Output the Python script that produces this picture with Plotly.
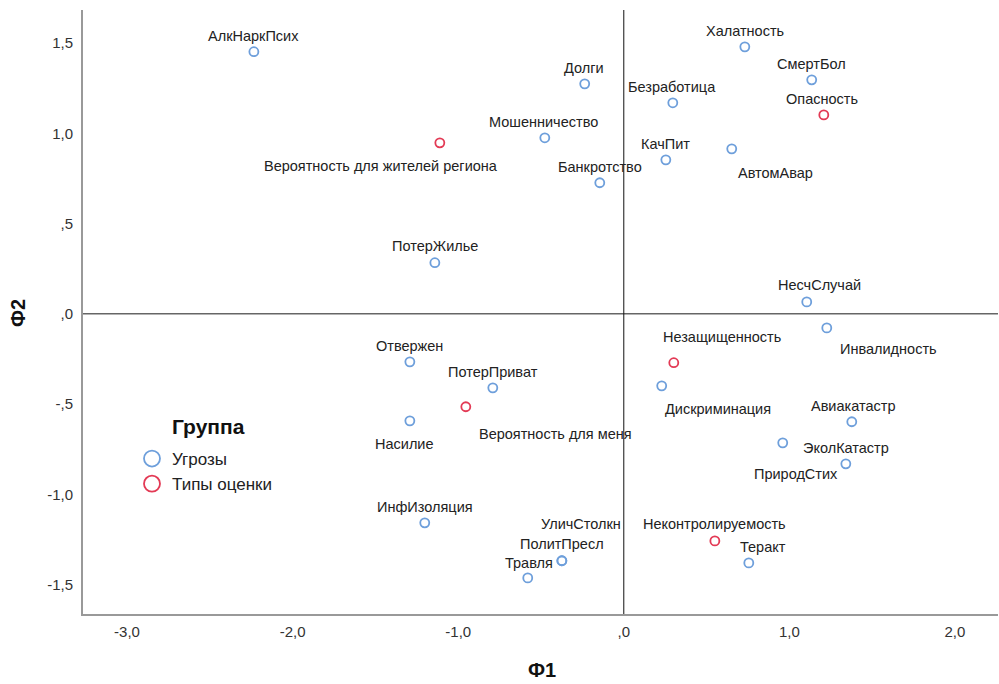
import plotly.graph_objects as go

# --- data ---
threat_names = ["АлкНаркПсих", "Долги", "Халатность", "СмертБол", "Безработица",
                "Мошенничество", "КачПит", "АвтомАвар", "Банкротство", "ПотерЖилье",
                "НесчСлучай", "Инвалидность", "Отвержен", "ПотерПриват", "Насилие",
                "Дискриминация", "Авиакатастр", "ЭколКатастр", "ПриродСтих",
                "ИнфИзоляция", "УличСтолкн", "ПолитПресл", "Травля", "Теракт"]
threat_f1 = [-2.234, -0.236, 0.731, 1.135, 0.296,
             -0.477, 0.254, 0.652, -0.145, -1.141,
             1.105, 1.226, -1.292, -0.791, -1.292,
             0.229, 1.377, 1.341, 0.960,
             -1.202, -0.374, -0.374, -0.580, 0.755]
threat_f2 = [1.452, 1.274, 1.479, 1.296, 1.169,
             0.975, 0.853, 0.914, 0.726, 0.283,
             0.066, -0.078, -0.266, -0.410, -0.593,
             -0.399, -0.598, -0.831, -0.715,
             -1.158, -1.368, -1.368, -1.463, -1.380]

type_names = ["Вероятность для жителей региона", "Опасность", "Незащищенность",
              "Вероятность для меня", "Неконтролируемость"]
type_f1 = [-1.111, 1.208, 0.302, -0.954, 0.550]
type_f2 = [0.947, 1.102, -0.271, -0.515, -1.258]

x_tickvals = [-3, -2, -1, 0, 1, 2]
x_ticktext = ["-3,0", "-2,0", "-1,0", ",0", "1,0", "2,0"]
y_tickvals = [1.5, 1.0, 0.5, 0.0, -0.5, -1.0, -1.5]
y_ticktext = ["1,5", "1,0", ",5", ",0", "-,5", "-1,0", "-1,5"]

# label offsets in pixels (dx, dy up)
threat_offsets = [(0, 16), (-1, 16), (0, 16), (0, 16), (-1, 16),
                  (-1, 16), (0, 16), (44, -24), (0, 16), (0, 17),
                  (13, 17), (62, -21), (0, 16), (0, 16), (-5, -23),
                  (56, -23), (1, 16), (0, 16), (13, -31),
                  (0, 16), (19, 37), (0, 17), (1, 15), (14, 16)]
type_offsets = [(-59, -23), (-2, 16), (48, 26), (90, -27), (0, 17)]

BLUE = "#6e9fdb"
RED = "#e33a55"
FONT = "Liberation Sans, Arial, sans-serif"

W, H = 999, 684
ML, MR, MT, MB = 83, 1, 10, 70
pw, ph = W - ML - MR, H - MT - MB


def px_x(p):
    return (p - ML) / pw


def px_y(p):
    return (H - MB - p) / ph


fig = go.Figure()
fig.add_trace(go.Scatter(x=threat_f1, y=threat_f2, mode="markers", showlegend=False,
                         marker=dict(symbol="circle-open", size=9, color=BLUE,
                                     line=dict(width=1.8, color=BLUE)),
                         hovertext=threat_names))
fig.add_trace(go.Scatter(x=type_f1, y=type_f2, mode="markers", showlegend=False,
                         marker=dict(symbol="circle-open", size=9, color=RED,
                                     line=dict(width=1.8, color=RED)),
                         hovertext=type_names))
# legend-only entries
fig.add_trace(go.Scatter(x=[None], y=[None], mode="markers", name="Угрозы",
                         marker=dict(symbol="circle-open", size=16, color=BLUE,
                                     line=dict(width=1.8, color=BLUE))))
fig.add_trace(go.Scatter(x=[None], y=[None], mode="markers", name="Типы оценки",
                         marker=dict(symbol="circle-open", size=16, color=RED,
                                     line=dict(width=1.8, color=RED))))

annotations = []
for names, xs, ys, offs in [(threat_names, threat_f1, threat_f2, threat_offsets),
                            (type_names, type_f1, type_f2, type_offsets)]:
    for n, x, y, (dx, dy) in zip(names, xs, ys, offs):
        annotations.append(dict(x=x, y=y, xref="x", yref="y", text=n, showarrow=False,
                                xshift=dx, yshift=dy, xanchor="center", yanchor="middle",
                                font=dict(family=FONT, size=14.5, color="#222")))
# legend title
annotations.append(dict(x=px_x(208), y=px_y(427), xref="paper", yref="paper",
                        text="<b>Группа</b>", showarrow=False, xanchor="center",
                        yanchor="middle", font=dict(family=FONT, size=21, color="#111")))
# axis titles
annotations.append(dict(x=px_x(542), y=px_y(670), xref="paper", yref="paper",
                        text="<b>Ф1</b>", showarrow=False, xanchor="center",
                        yanchor="middle", font=dict(family=FONT, size=20, color="#111")))
annotations.append(dict(x=px_x(18), y=px_y(313), xref="paper", yref="paper",
                        text="<b>Ф2</b>", showarrow=False, xanchor="center",
                        yanchor="middle", textangle=-90,
                        font=dict(family=FONT, size=20, color="#111")))

fig.add_shape(type="line", xref="paper", yref="y", x0=0, x1=1, y0=0, y1=0,
              line=dict(color="#666", width=1.6), layer="below")
fig.add_shape(type="line", xref="x", yref="paper", x0=0, x1=0, y0=0, y1=1,
              line=dict(color="#111", width=1), layer="below")

fig.update_layout(
    width=W, height=H,
    margin=dict(l=ML, r=MR, t=MT, b=MB, autoexpand=False),
    plot_bgcolor="white", paper_bgcolor="white",
    font=dict(family=FONT, size=15, color="#333"),
    annotations=annotations,
    xaxis=dict(range=[-3.266, 2.26], tickvals=x_tickvals, ticktext=x_ticktext,
               showgrid=False, zeroline=False, showline=True, linecolor="#999",
               linewidth=2, ticks="outside", ticklen=3, tickcolor="rgba(0,0,0,0)",
               automargin=False, tickfont=dict(family=FONT, size=15, color="#333")),
    yaxis=dict(range=[-1.663, 1.683], tickvals=y_tickvals, ticktext=y_ticktext,
               showgrid=False, zeroline=False, showline=True, linecolor="#999",
               linewidth=2, ticks="outside", ticklen=5, tickcolor="rgba(0,0,0,0)",
               automargin=False, tickfont=dict(family=FONT, size=15, color="#333")),
    legend=dict(x=px_x(132), y=px_y(441), xanchor="left", yanchor="top",
                bgcolor="rgba(0,0,0,0)", font=dict(family=FONT, size=17, color="#222"),
                itemwidth=30, tracegroupgap=0),
)

fig.write_html("out.html", config={"displayModeBar": False},
               post_script="document.body.style.margin='0';document.body.style.padding='0';")
